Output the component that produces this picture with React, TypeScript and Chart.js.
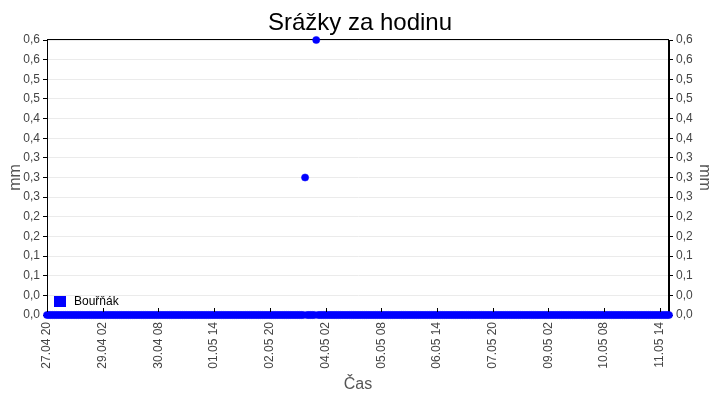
import React, { useEffect, useRef } from 'react';
import { Chart, registerables } from 'chart.js';

Chart.register(...registerables);

// Days covered by the hourly series (first day starts at 20:00, last ends at 19:00)
const days: string[] = [
  '27.04', '28.04', '29.04', '30.04', '01.05', '02.05', '03.05', '04.05',
  '05.05', '06.05', '07.05', '08.05', '09.05', '10.05', '11.05',
];
const firstDayStartHour = 20;
const lastDayEndHour = 19;

// Hourly precipitation [mm], station "Bouřňák"
const precipitation: number[] = [
  // 27.04 20–23
  0, 0, 0, 0,
  // 28.04
  0, 0, 0, 0, 0, 0, 0, 0, 0, 0, 0, 0, 0, 0, 0, 0, 0, 0, 0, 0, 0, 0, 0, 0,
  // 29.04
  0, 0, 0, 0, 0, 0, 0, 0, 0, 0, 0, 0, 0, 0, 0, 0, 0, 0, 0, 0, 0, 0, 0, 0,
  // 30.04
  0, 0, 0, 0, 0, 0, 0, 0, 0, 0, 0, 0, 0, 0, 0, 0, 0, 0, 0, 0, 0, 0, 0, 0,
  // 01.05
  0, 0, 0, 0, 0, 0, 0, 0, 0, 0, 0, 0, 0, 0, 0, 0, 0, 0, 0, 0, 0, 0, 0, 0,
  // 02.05
  0, 0, 0, 0, 0, 0, 0, 0, 0, 0, 0, 0, 0, 0, 0, 0, 0, 0, 0, 0, 0, 0, 0, 0,
  // 03.05
  0, 0, 0, 0, 0, 0, 0, 0, 0, 0, 0, 0, 0, 0, 0, 0.3048, 0, 0, 0, 0, 0, 0.6096, 0, 0,
  // 04.05
  0, 0, 0, 0, 0, 0, 0, 0, 0, 0, 0, 0, 0, 0, 0, 0, 0, 0, 0, 0, 0, 0, 0, 0,
  // 05.05
  0, 0, 0, 0, 0, 0, 0, 0, 0, 0, 0, 0, 0, 0, 0, 0, 0, 0, 0, 0, 0, 0, 0, 0,
  // 06.05
  0, 0, 0, 0, 0, 0, 0, 0, 0, 0, 0, 0, 0, 0, 0, 0, 0, 0, 0, 0, 0, 0, 0, 0,
  // 07.05
  0, 0, 0, 0, 0, 0, 0, 0, 0, 0, 0, 0, 0, 0, 0, 0, 0, 0, 0, 0, 0, 0, 0, 0,
  // 08.05
  0, 0, 0, 0, 0, 0, 0, 0, 0, 0, 0, 0, 0, 0, 0, 0, 0, 0, 0, 0, 0, 0, 0, 0,
  // 09.05
  0, 0, 0, 0, 0, 0, 0, 0, 0, 0, 0, 0, 0, 0, 0, 0, 0, 0, 0, 0, 0, 0, 0, 0,
  // 10.05
  0, 0, 0, 0, 0, 0, 0, 0, 0, 0, 0, 0, 0, 0, 0, 0, 0, 0, 0, 0, 0, 0, 0, 0,
  // 11.05 00–19
  0, 0, 0, 0, 0, 0, 0, 0, 0, 0, 0, 0, 0, 0, 0, 0, 0, 0, 0, 0,
];

const seriesLabel = 'Bouřňák';
const chartTitle = 'Srážky za hodinu';
const yAxisTitle = 'mm';
const xAxisTitle = 'Čas';
const yMax = 0.6096;
const yIntervals = 14;
const xLabelEvery = 30;

function buildCategories(): string[] {
  const out: string[] = [];
  days.forEach((d, di) => {
    const from = di === 0 ? firstDayStartHour : 0;
    const to = di === days.length - 1 ? lastDayEndHour : 23;
    for (let h = from; h <= to; h++) out.push(`${d} ${String(h).padStart(2, '0')}`);
  });
  return out;
}

const FONT = "'Liberation Sans', Arial, sans-serif";

export default function App() {
  const ref = useRef<HTMLCanvasElement | null>(null);

  useEffect(() => {
    if (!ref.current) return;
    const categories = buildCategories();
    const yTickValues = Array.from({ length: yIntervals + 1 }, (_, k) => (k * yMax) / yIntervals);
    const fmt = (v: number) => v.toFixed(1).replace('.', ',');

    const framePlugin = {
      id: 'frame',
      beforeDatasetsDraw(chart: any) {
        const { ctx, chartArea: a } = chart;
        ctx.save();
        ctx.strokeStyle = '#000';
        ctx.lineWidth = 1;
        ctx.strokeRect(Math.round(a.left) + 0.5, Math.round(a.top) - 0.5, Math.round(a.right - a.left) - 1, Math.round(a.bottom - a.top) + 1);
        ctx.restore();
      },
      afterDraw(chart: any) {
        const { ctx, chartArea: a } = chart;
        const xs = chart.scales.x;
        ctx.save();
        // inward x tick marks
        ctx.strokeStyle = '#000';
        ctx.lineWidth = 1;
        for (let i = 0; i < categories.length; i += xLabelEvery) {
          const x = Math.round(xs.getPixelForValue(i)) + 0.5;
          ctx.beginPath();
          ctx.moveTo(x, a.bottom - 7);
          ctx.lineTo(x, a.bottom - 3);
          ctx.stroke();
        }
        // legend inside plot area
        const ds = chart.data.datasets[0];
        ctx.fillStyle = '#0000ff';
        ctx.fillRect(a.left + 7, a.bottom - 19, 12, 11);
        ctx.fillStyle = '#000';
        ctx.font = `12px ${FONT}`;
        ctx.textBaseline = 'middle';
        ctx.textAlign = 'left';
        ctx.fillText(ds.label, a.left + 27, a.bottom - 13);
        ctx.restore();
      },
    };

    const yCommon = {
      min: 0,
      max: yMax,
      afterBuildTicks: (scale: any) => {
        scale.ticks = yTickValues.map((v) => ({ value: v }));
      },
      ticks: {
        callback: (v: any) => fmt(Number(v)),
        color: '#444',
        font: { family: FONT, size: 12 },
        padding: 3,
      },
      border: { color: '#000', width: 1 },
      title: {
        display: true,
        text: yAxisTitle,
        color: '#555',
        font: { family: FONT, size: 16 },
        padding: { top: 6, bottom: 0 },
      },
    };

    const chart = new Chart(ref.current, {
      type: 'line',
      data: {
        labels: categories,
        datasets: [
          {
            label: seriesLabel,
            data: precipitation,
            showLine: false,
            pointRadius: 3.6,
            pointHoverRadius: 3.6,
            pointBackgroundColor: '#0000ff',
            pointBorderColor: '#0000ff',
            pointBorderWidth: 0.5,
            borderColor: '#0000ff',
            backgroundColor: '#0000ff',
            clip: false,
          } as any,
        ],
      },
      options: {
        animation: false,
        responsive: true,
        maintainAspectRatio: false,
        layout: { padding: 0 },
        plugins: {
          legend: { display: false },
          tooltip: { enabled: false },
          title: {
            display: true,
            text: chartTitle,
            color: '#000',
            font: { family: FONT, size: 24, weight: 'normal' },
            padding: { top: 9, bottom: 2.2 },
          },
        },
        scales: {
          x: {
            type: 'category',
            offset: false,
            grid: { display: false, drawTicks: false },
            border: { color: '#000', width: 1 },
            ticks: {
              autoSkip: false,
              minRotation: 90,
              maxRotation: 90,
              padding: 7,
              color: '#444',
              font: { family: FONT, size: 12 },
              callback: (_v: any, index: number) => (index % xLabelEvery === 0 ? categories[index] : null),
            },
            title: {
              display: true,
              text: xAxisTitle,
              color: '#555',
              font: { family: FONT, size: 16 },
              padding: { top: 0, bottom: 6 },
            },
            afterFit: (scale: any) => {
              scale.height = 85;
            },
          },
          y: {
            ...yCommon,
            position: 'left',
            grid: { color: '#ebebeb', tickColor: '#000', tickLength: 4, drawTicks: true },
            afterFit: (scale: any) => {
              scale.width = 47;
            },
          } as any,
          y2: {
            ...yCommon,
            position: 'right',
            grid: { drawOnChartArea: false, tickColor: '#000', tickLength: 4, drawTicks: true },
            afterFit: (scale: any) => {
              scale.width = 51;
            },
          } as any,
        },
      },
      plugins: [framePlugin],
    });
    return () => chart.destroy();
  }, []);

  return (
    <div style={{ position: 'fixed', left: 0, top: 0, width: 720, height: 400, background: '#fff' }}>
      <canvas ref={ref} />
    </div>
  );
}
